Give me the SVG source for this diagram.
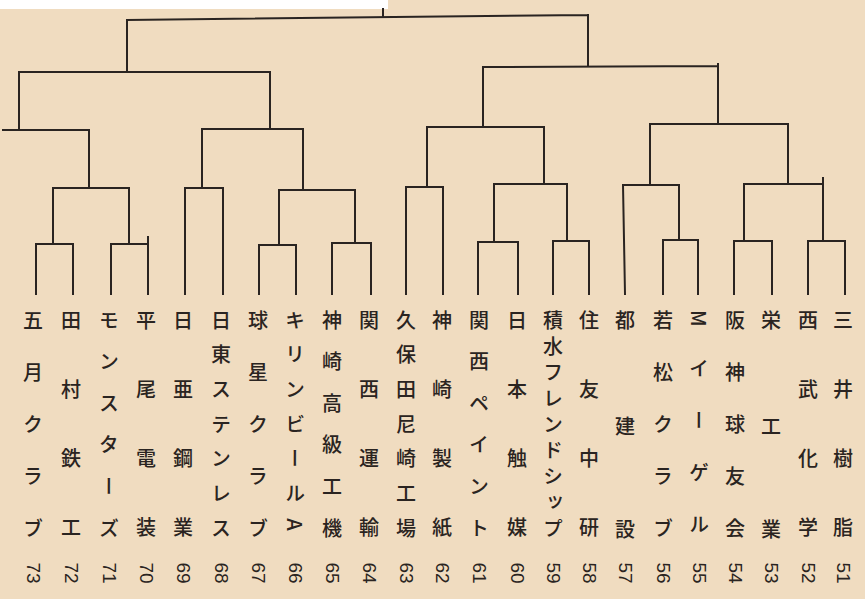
<svg xmlns="http://www.w3.org/2000/svg" width="865" height="599" viewBox="0 0 865 599">
<defs>
<style>
.bg{fill:#f0dcc0}
.cn path{fill:none;stroke:#2a2421;stroke-width:2;stroke-linecap:square}
.t{font-family:"Noto Sans CJK JP","Noto Sans CJK SC",sans-serif;font-size:20px;font-weight:500;fill:#2a2421;writing-mode:vertical-rl}
.n{font-family:"Liberation Sans",Arial,sans-serif;font-size:19px;fill:#2a2421;text-anchor:middle;dominant-baseline:central}
.s4{letter-spacing:49px}.s5{letter-spacing:32px}.s6{letter-spacing:21.6px}.s7{letter-spacing:14.7px}.s9{letter-spacing:6px}
</style>
</defs>
<rect class="bg" x="0" y="0" width="865" height="599"/>
<rect x="0" y="0" width="388" height="9" fill="#ffffff"/>
<g class="cn" id="connectors">
<path d="M383 9V16M127 20L588 15M127 20V72M588 15V66"/>
<path d="M19 72H270M19 72V130M270 72V129"/>
<path d="M3 130H89M89 130V188M53 188H129M53 188V244M129 188V244"/>
<path d="M36 244H73M36 244V294M73 244V294M111 244H148M111 244V294M148 237V294"/>
<path d="M202 129H303M202 129V188M303 129V190M185 188H223M185 188V294M223 188V294"/>
<path d="M279 190H355M279 190V245M355 190V243M259 245H296M259 245V294M296 245V294M332 243H371M332 243V294M371 243V294"/>
<path d="M483 67L718 66M483 67V127M718 64V124"/>
<path d="M427 127H544M427 127V187M544 127V184M406 187H443M406 187V294M443 187V294"/>
<path d="M494 184H567M494 184V242M567 184V241M478 242H518M478 242V294M518 242V294M553 241H589M553 241V294M589 241V294"/>
<path d="M650 124H788M650 124V185M788 124V184M623 185H679M623 185L625 294M679 185V240M663 240H698M663 240V294M698 240V294"/>
<path d="M744 184H823M744 184V241M823 178V241M734 241H772M734 241V294M772 241V294M808 241H845M808 241V294M845 241V294"/>
</g>
<g id="team51"><text class="t s4" x="843" y="310">三井樹脂</text><text class="n" transform="translate(843,573) rotate(90)">51</text></g>
<g id="team52"><text class="t s4" x="808" y="310">西武化学</text><text class="n" transform="translate(808,573) rotate(90)">52</text></g>
<g id="team53"><text class="t" x="771" y="310">栄</text><text class="t" x="771" y="416">工</text><text class="t" x="771" y="519">業</text><text class="n" transform="translate(771,573) rotate(90)">53</text></g>
<g id="team54"><text class="t s5" x="735" y="310">阪神球友会</text><text class="n" transform="translate(735,573) rotate(90)">54</text></g>
<g id="team55"><text class="t s5" x="699" y="310">Mイーゲル</text><text class="n" transform="translate(699,573) rotate(90)">55</text></g>
<g id="team56"><text class="t s5" x="663" y="310">若松クラブ</text><text class="n" transform="translate(663,573) rotate(90)">56</text></g>
<g id="team57"><text class="t" x="625" y="310">都</text><text class="t" x="625" y="416">建</text><text class="t" x="625" y="519">設</text><text class="n" transform="translate(625,573) rotate(90)">57</text></g>
<g id="team58"><text class="t s4" x="589" y="310">住友中研</text><text class="n" transform="translate(589,573) rotate(90)">58</text></g>
<g id="team59"><text class="t s9" x="553" y="310">積水フレンドシップ</text><text class="n" transform="translate(553,573) rotate(90)">59</text></g>
<g id="team60"><text class="t s4" x="517" y="310">日本触媒</text><text class="n" transform="translate(517,573) rotate(90)">60</text></g>
<g id="team61"><text class="t s6" x="479" y="310">関西ペイント</text><text class="n" transform="translate(479,573) rotate(90)">61</text></g>
<g id="team62"><text class="t s4" x="442" y="310">神崎製紙</text><text class="n" transform="translate(442,573) rotate(90)">62</text></g>
<g id="team63"><text class="t s7" x="406" y="310">久保田尼崎工場</text><text class="n" transform="translate(406,573) rotate(90)">63</text></g>
<g id="team64"><text class="t s4" x="369" y="310">関西運輸</text><text class="n" transform="translate(369,573) rotate(90)">64</text></g>
<g id="team65"><text class="t s6" x="332" y="310">神崎高級工機</text><text class="n" transform="translate(332,573) rotate(90)">65</text></g>
<g id="team66"><text class="t s7" x="295" y="310">キリンビールA</text><text class="n" transform="translate(295,573) rotate(90)">66</text></g>
<g id="team67"><text class="t s5" x="258" y="310">球星クラブ</text><text class="n" transform="translate(258,573) rotate(90)">67</text></g>
<g id="team68"><text class="t s7" x="221" y="310">日東ステンレス</text><text class="n" transform="translate(221,573) rotate(90)">68</text></g>
<g id="team69"><text class="t s4" x="183" y="310">日亜鋼業</text><text class="n" transform="translate(183,573) rotate(90)">69</text></g>
<g id="team70"><text class="t s4" x="146" y="310">平尾電装</text><text class="n" transform="translate(146,573) rotate(90)">70</text></g>
<g id="team71"><text class="t s6" x="109" y="310">モンスターズ</text><text class="n" transform="translate(109,573) rotate(90)">71</text></g>
<g id="team72"><text class="t s4" x="71" y="310">田村鉄工</text><text class="n" transform="translate(71,573) rotate(90)">72</text></g>
<g id="team73"><text class="t s5" x="33" y="310">五月クラブ</text><text class="n" transform="translate(33,573) rotate(90)">73</text></g>
</svg>
